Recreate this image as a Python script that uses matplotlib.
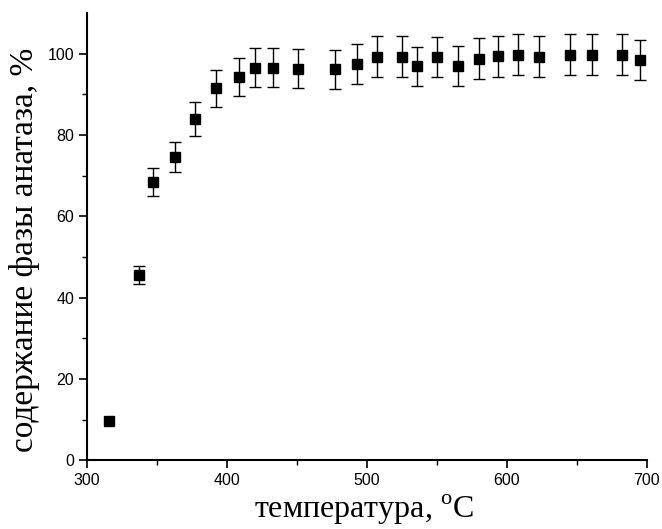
import numpy as np
import matplotlib
matplotlib.use("Agg")
import matplotlib.pyplot as plt

# Anatase phase content vs annealing temperature
temperature = [316, 337, 347, 363, 377, 392, 409, 420, 433, 451, 477, 493,
               507, 525, 536, 550, 565, 580, 594, 608, 623, 645, 661, 682, 695]
anatase = [9.7, 45.6, 68.4, 74.6, 84.0, 91.5, 94.4, 96.6, 96.6, 96.3, 96.2, 97.5,
           99.3, 99.3, 97.0, 99.2, 97.0, 98.8, 99.4, 99.8, 99.3, 99.8, 99.8, 99.8, 98.5]
error = [0.0, 2.3, 3.4, 3.7, 4.2, 4.6, 4.7, 4.8, 4.8, 4.8, 4.8, 4.9,
         5.0, 5.0, 4.8, 5.0, 4.9, 5.0, 5.0, 5.0, 5.0, 5.0, 5.0, 5.0, 4.9]

plt.rcParams["mathtext.fontset"] = "custom"
plt.rcParams["mathtext.rm"] = "Liberation Serif"

fig = plt.figure(figsize=(6.62, 5.29), dpi=100)
ax = fig.add_axes([0.131, 0.130, 0.846, 0.845])

t = np.array(temperature)
a = np.array(anatase)
e = np.array(error)
has_err = e > 0

# error bars only where an error was measured
ax.errorbar(t[has_err], a[has_err], yerr=e[has_err], fmt="none",
            ecolor="black", elinewidth=1.0, capsize=4, capthick=1.0)
ax.plot(t, a, "s", color="black", markersize=6.5)

ax.set_xlim(300, 700)
ax.set_ylim(0, 110)
ax.set_xticks([300, 400, 500, 600, 700])
ax.set_xticks([350, 450, 550, 650], minor=True)
ax.set_yticks([0, 20, 40, 60, 80, 100])
ax.set_yticks([10, 30, 50, 70, 90], minor=True)

for side in ["top", "right"]:
    ax.spines[side].set_visible(False)
for side in ["left", "bottom"]:
    ax.spines[side].set_linewidth(1.5)

ax.tick_params(which="major", direction="out", length=6, width=1.2,
               labelsize=11.5, pad=3)
ax.tick_params(which="minor", direction="out", length=3.5, width=1.0)
for lbl in ax.get_xticklabels() + ax.get_yticklabels():
    lbl.set_family("Liberation Sans")

ax.set_xlabel(r"температура, $^{\rm o}$C", family="Liberation Serif",
              fontsize=23)
ax.set_ylabel("содержание фазы анатаза, %", family="Liberation Serif",
              fontsize=24)
ax.xaxis.set_label_coords(0.495, -0.072)
ax.yaxis.set_label_coords(-0.084, 0.47)

fig.savefig("out.png", dpi=100)
